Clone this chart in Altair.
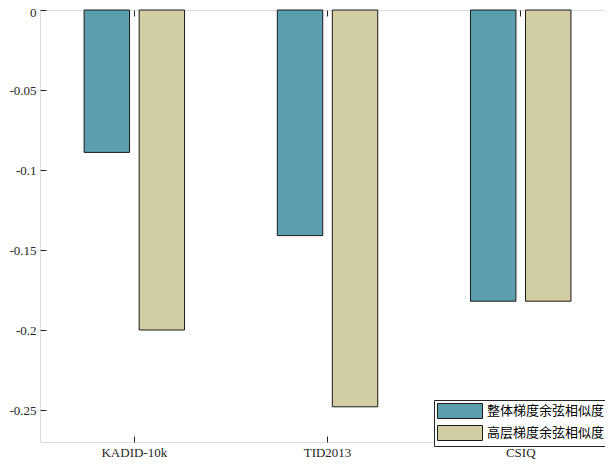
import altair as alt
import pandas as pd

datasets = ["KADID-10k", "TID2013", "CSIQ"]
series = ["整体梯度余弦相似度", "高层梯度余弦相似度"]
overall = [-0.089, -0.141, -0.182]
high = [-0.200, -0.248, -0.182]
colors = ["#5B9EAD", "#D1CEA1"]
y_ticks = [0, -0.05, -0.1, -0.15, -0.2, -0.25]

rows = []
for d, a, b in zip(datasets, overall, high):
    rows.append({"dataset": d, "series": series[0], "value": a})
    rows.append({"dataset": d, "series": series[1], "value": b})
df = pd.DataFrame(rows)

FONT = "'Liberation Serif', 'Times New Roman', 'Noto Sans CJK SC', serif"
AX = "#262626"

xscale = alt.Scale(domain=datasets, paddingInner=0.48, paddingOuter=0.223, align=0.512)
yscale = alt.Scale(domain=[-0.27, 0], nice=False)
offscale = alt.Scale(domain=series, paddingInner=0.1745, paddingOuter=0)
colorscale = alt.Scale(domain=series, range=colors)

common = dict(domain=False, grid=False, tickColor=AX, tickSize=6, offset=-6,
              tickWidth=1, labelFont=FONT, labelFontSize=13, labelColor=AX)

bars = alt.Chart(df).mark_bar(stroke="#1a1a1a", strokeWidth=1).encode(
    x=alt.X("dataset:N", scale=xscale, sort=datasets, title=None,
            axis=alt.Axis(orient="bottom", labelAngle=0, labelPadding=4, **common)),
    xOffset=alt.XOffset("series:N", scale=offscale, sort=series),
    y=alt.Y("value:Q", scale=yscale, title=None,
            axis=alt.Axis(orient="left", values=y_ticks, labelPadding=4,
                          labelOffset={"condition": {"test": "datum.value == 0", "value": 2.5}, "value": 0},
                          labelExpr="datum.value == 0 ? '0' : '-' + format(-datum.value, '')",
                          **common)),
    color=alt.Color("series:N", scale=colorscale, sort=series,
                    legend=alt.Legend(title=None, orient="none", legendX=394, legendY=390,
                                      symbolType="M-3,-1H3V1H-3Z", symbolSize=225,
                                      symbolStrokeColor="#1a1a1a", symbolStrokeWidth=1,
                                      symbolOpacity=1, labelFont=FONT, labelFontSize=13,
                                      labelColor="#000", strokeColor=AX, fillColor="white",
                                      labelExpr="datum.label + '   '",
                                      padding=3, rowPadding=2, labelOffset=19,
                                      symbolOffset=15)),
)

frame = alt.Chart(df).mark_bar(opacity=0).encode(
    x=alt.X("dataset:N", scale=xscale, sort=datasets, title=None,
            axis=alt.Axis(orient="top", labels=False, **common)),
    y=alt.Y("value:Q", scale=yscale, title=None,
            axis=alt.Axis(orient="right", values=y_ticks, labels=False, **common)),
)

chart = alt.layer(bars, frame).resolve_axis(x="independent", y="independent").properties(
    width=573, height=432,
    autosize=alt.AutoSizeParams(type="none"),
    padding={"left": 32, "top": 2, "right": -8, "bottom": 17},
).configure_view(stroke=AX, strokeWidth=1).configure(background="white")

chart.save("out.html", embed_options={"renderer": "svg", "actions": False})
